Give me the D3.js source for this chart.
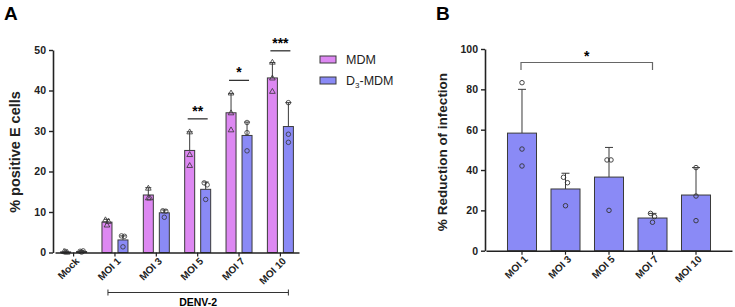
<!DOCTYPE html>
<html>
<head>
<meta charset="utf-8">
<script src="https://cdn.jsdelivr.net/npm/d3@7"></script>
<style>
  body { margin: 0; background: #fff; }
  svg { font-family: "Liberation Sans", Arial, sans-serif; }
</style>
</head>
<body>
<svg id="chart" width="735" height="307"></svg>
<script>
// ---- panel A data ----
const groupsA = ['Mock', 'MOI 1', 'MOI 3', 'MOI 5', 'MOI 7', 'MOI 10']
const mdmMean = [0.15, 7.5, 14.2, 25.2, 34.5, 43.1]
const mdmErr = [0.3, 8.2, 16.0, 29.8, 39.3, 46.9]
const mdmPts = [[0.2, 0.0, 0.1], [8.0, 7.6, 6.7], [15.8, 13.4, 13.4], [29.7, 24.1, 21.4], [39.3, 34.4, 30.2], [46.9, 43.0, 39.7]]
const d3Mean = [0.25, 3.1, 9.8, 15.6, 28.9, 31.1]
const d3Err = [0.45, 4.1, 10.5, 17.4, 32.2, 37.0]
const d3Pts = [[0.3, 0.4, 0.1], [4.1, 4.0, 1.4], [10.3, 10.2, 8.7], [17.2, 16.7, 13.1], [32.1, 29.6, 25.1], [37.0, 29.2, 27.2]]
const sigA = [{group: 'MOI 5', label: '**', y: 33}, {group: 'MOI 7', label: '*', y: 42.5}, {group: 'MOI 10', label: '***', y: 49.8}]
const ticksA = [0, 10, 20, 30, 40, 50]

// ---- panel B data ----
const groupsB = ['MOI 1', 'MOI 3', 'MOI 5', 'MOI 7', 'MOI 10']
const redMean = [58.3, 30.6, 36.5, 16.2, 27.6]
const redErr = [80, 38.4, 51.2, 18.5, 41.2]
const redPts = [[83.3, 50.4, 42.0], [36.4, 33.7, 22.3], [45.0, 45.0, 20.0], [18.5, 16.9, 14.1], [41.2, 27.1, 14.9]]
const ticksB = [0, 20, 40, 60, 80, 100]

const pink = '#DD88F2'
const blue = '#8A8AF6'
const edge = '#3a3a3a'

const svg = d3.select('#chart')

// ================= Panel A =================
const xA = d3.scaleBand().domain(groupsA).range([55, 299]).paddingInner(0.2).paddingOuter(0.05)
const yA = d3.scaleLinear().domain([0, 50]).range([252.5, 50])
const barW = 10, gapW = 6

function barX(g, k) {
  // k = 0 for MDM, 1 for D3-MDM
  const c = xA(g) + xA.bandwidth() / 2
  return k == 0 ? c - gapW / 2 - barW : c + gapW / 2
}

svg.append('g')
  .attr('transform', 'translate(53,0)')
  .call(d3.axisLeft(yA).tickValues(ticksA).tickSize(4).tickSizeOuter(0))
  .call(g => g.select('.domain').attr('stroke', '#222').attr('stroke-width', 1.6))
  .call(g => g.selectAll('.tick line').attr('stroke', '#222').attr('stroke-width', 1.4))
  .call(g => g.selectAll('text').attr('font-size', 10.5).attr('font-weight', 'bold').attr('fill', '#222'))

const seriesA = [
  {mean: mdmMean, err: mdmErr, pts: mdmPts, color: pink, shape: d3.symbolTriangle},
  {mean: d3Mean, err: d3Err, pts: d3Pts, color: blue, shape: d3.symbolCircle}
]

const gA = svg.append('g')
seriesA.forEach((s, k) => {
  groupsA.forEach((g, i) => {
    const x = barX(g, k)
    // error bar (upper only)
    gA.append('line')
      .attr('x1', x + barW / 2).attr('x2', x + barW / 2)
      .attr('y1', yA(s.mean[i])).attr('y2', yA(s.err[i]))
      .attr('stroke', edge).attr('stroke-width', 1)
    gA.append('line')
      .attr('x1', x + barW / 2 - 3).attr('x2', x + barW / 2 + 3)
      .attr('y1', yA(s.err[i])).attr('y2', yA(s.err[i]))
      .attr('stroke', edge).attr('stroke-width', 1)
    gA.append('rect')
      .attr('x', x).attr('width', barW)
      .attr('y', yA(s.mean[i])).attr('height', yA(0) - yA(s.mean[i]))
      .attr('fill', s.color).attr('stroke', edge).attr('stroke-width', 1)
    s.pts[i].forEach((v, j) => {
      const dx = [-1.5, 1.5, 0][j] * (s.pts[i].filter(w => Math.abs(w - v) < 1).length > 1 ? 1 : 0)
      gA.append('path')
        .attr('d', d3.symbol().type(s.shape).size(k == 0 ? 14 : 16)())
        .attr('transform', `translate(${x + barW / 2 + dx},${yA(v)})`)
        .attr('fill', 'none').attr('stroke', '#333').attr('stroke-width', 0.8)
    })
  })
})

svg.append('g')
  .attr('transform', `translate(0,${yA(0)})`)
  .call(d3.axisBottom(xA).tickSize(4).tickSizeOuter(0))
  .call(g => g.select('.domain').attr('stroke', '#222').attr('stroke-width', 1.6))
  .call(g => g.selectAll('.tick line').attr('stroke', '#222').attr('stroke-width', 1.2))
  .call(g => g.selectAll('text')
    .attr('font-size', 10).attr('font-weight', 'bold').attr('fill', '#222')
    .attr('text-anchor', 'end').attr('dx', '-2').attr('dy', '4')
    .attr('transform', 'rotate(-45)'))

// significance marks
sigA.forEach(s => {
  const c = xA(s.group) + xA.bandwidth() / 2
  svg.append('line')
    .attr('x1', c - 10).attr('x2', c + 10)
    .attr('y1', yA(s.y)).attr('y2', yA(s.y))
    .attr('stroke', '#333').attr('stroke-width', 1.3)
  svg.append('text')
    .attr('x', c).attr('y', yA(s.y) - 3)
    .attr('text-anchor', 'middle').attr('font-size', 14).attr('font-weight', 'bold')
    .text(s.label)
})

// DENV-2 bracket
const bx0 = xA('MOI 1') + xA.bandwidth() / 2 - 7
const bx1 = xA('MOI 10') + xA.bandwidth() / 2 + 8
svg.append('path')
  .attr('d', `M${bx0},289.5V295.5M${bx0},292.5H${bx1}M${bx1},289.5V295.5`)
  .attr('stroke', '#333').attr('stroke-width', 1).attr('fill', 'none')
svg.append('text')
  .attr('x', (bx0 + bx1) / 2).attr('y', 305.5)
  .attr('text-anchor', 'middle').attr('font-size', 10.5).attr('font-weight', 'bold')
  .text('DENV-2')

// legend
const legend = [{label: 'MDM', color: pink}, {label: 'D3-MDM', color: blue}]
legend.forEach((l, i) => {
  const y = 56 + i * 21
  svg.append('rect').attr('x', 320).attr('y', y).attr('width', 16).attr('height', 7)
    .attr('fill', l.color).attr('stroke', edge).attr('stroke-width', 1)
  const t = svg.append('text').attr('x', 346).attr('y', y + 8).attr('font-size', 12.5).attr('fill', '#222')
  if (l.label == 'D3-MDM') {
    t.append('tspan').text('D')
    t.append('tspan').attr('font-size', 8).attr('dy', 3).text('3')
    t.append('tspan').attr('dy', -3).text('-MDM')
  } else {
    t.text(l.label)
  }
})

svg.append('text')
  .attr('transform', 'translate(20,152) rotate(-90)')
  .attr('text-anchor', 'middle').attr('font-size', 14.5).attr('font-weight', 'bold').attr('fill', '#222')
  .text('% positive E cells')

svg.append('text').attr('x', 4).attr('y', 20).attr('font-size', 19).attr('font-weight', 'bold').text('A')

// ================= Panel B =================
const xB = d3.scaleBand().domain(groupsB).range([486, 732]).paddingInner(0.333).paddingOuter(0.494)
const yB = d3.scaleLinear().domain([0, 100]).range([250.7, 49])

svg.append('g')
  .attr('transform', 'translate(485,0)')
  .call(d3.axisLeft(yB).tickValues(ticksB).tickSize(4).tickSizeOuter(0))
  .call(g => g.select('.domain').attr('stroke', '#222').attr('stroke-width', 1.6))
  .call(g => g.selectAll('.tick line').attr('stroke', '#222').attr('stroke-width', 1.4))
  .call(g => g.selectAll('text').attr('font-size', 10.5).attr('font-weight', 'bold').attr('fill', '#222'))

const gB = svg.append('g')
groupsB.forEach((g, i) => {
  const x = xB(g), w = xB.bandwidth(), c = x + w / 2
  gB.append('line')
    .attr('x1', c).attr('x2', c).attr('y1', yB(redMean[i])).attr('y2', yB(redErr[i]))
    .attr('stroke', edge).attr('stroke-width', 1)
  gB.append('line')
    .attr('x1', c - 4).attr('x2', c + 4).attr('y1', yB(redErr[i])).attr('y2', yB(redErr[i]))
    .attr('stroke', edge).attr('stroke-width', 1)
  gB.append('rect')
    .attr('x', x).attr('width', w)
    .attr('y', yB(redMean[i])).attr('height', yB(0) - yB(redMean[i]))
    .attr('fill', blue).attr('stroke', edge).attr('stroke-width', 1)
  redPts[i].forEach((v, j) => {
    const close = redPts[i].filter(w2 => Math.abs(w2 - v) < 4).length > 1
    const dx = close ? [-2, 2, 0][j] : 0
    gB.append('path')
      .attr('d', d3.symbol().type(d3.symbolCircle).size(16)())
      .attr('transform', `translate(${c + dx},${yB(v)})`)
      .attr('fill', 'none').attr('stroke', '#333').attr('stroke-width', 0.9)
  })
})

svg.append('g')
  .attr('transform', `translate(0,${yB(0)})`)
  .call(d3.axisBottom(xB).tickSize(4).tickSizeOuter(0))
  .call(g => g.select('.domain').attr('stroke', '#222').attr('stroke-width', 1.6))
  .call(g => g.selectAll('.tick line').attr('stroke', '#222').attr('stroke-width', 1.2))
  .call(g => g.selectAll('text')
    .attr('font-size', 10).attr('font-weight', 'bold').attr('fill', '#222')
    .attr('text-anchor', 'end').attr('dx', '-2').attr('dy', '4')
    .attr('transform', 'rotate(-45)'))

// significance bracket MOI 1 vs MOI 7
const s0 = xB('MOI 1') + xB.bandwidth() / 2 - 1
const s1 = xB('MOI 7') + xB.bandwidth() / 2
svg.append('path')
  .attr('d', `M${s0},70V62.5H${s1}V70`)
  .attr('stroke', '#666').attr('stroke-width', 1.2).attr('fill', 'none')
svg.append('text')
  .attr('x', (s0 + s1) / 2).attr('y', 61)
  .attr('text-anchor', 'middle').attr('font-size', 14).attr('font-weight', 'bold')
  .text('*')

svg.append('text')
  .attr('transform', 'translate(447,152) rotate(-90)')
  .attr('text-anchor', 'middle').attr('font-size', 13.5).attr('font-weight', 'bold').attr('fill', '#222')
  .text('% Reduction of infection')

svg.append('text').attr('x', 436).attr('y', 20).attr('font-size', 19).attr('font-weight', 'bold').text('B')
</script>
</body>
</html>
